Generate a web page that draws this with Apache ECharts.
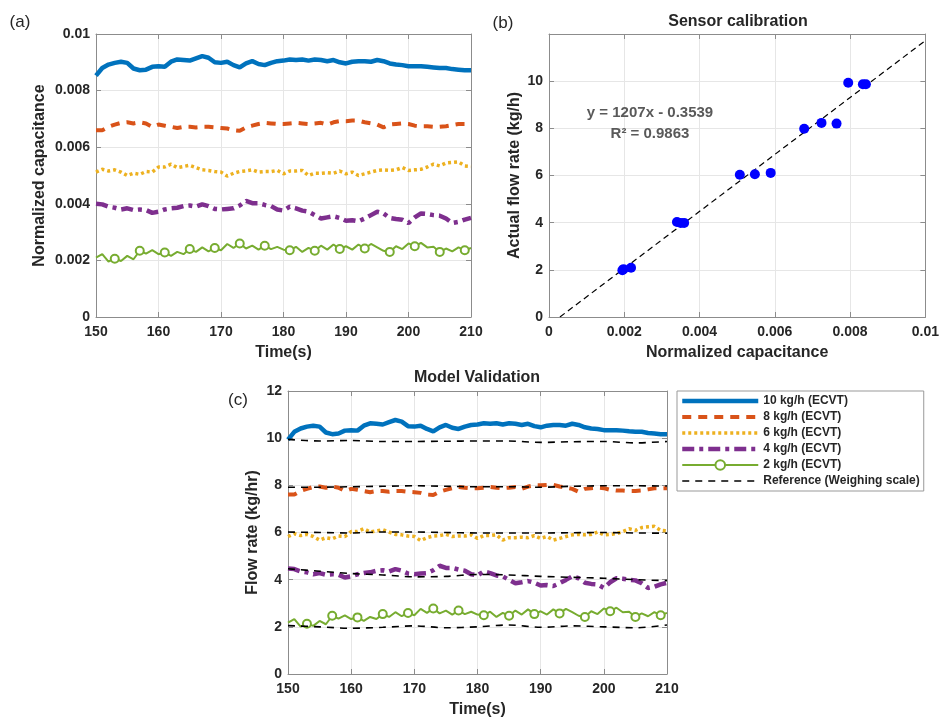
<!DOCTYPE html>
<html>
<head>
<meta charset="utf-8">
<script src="https://cdn.jsdelivr.net/npm/echarts@6/dist/echarts.min.js"></script>
<style>
  html, body { margin: 0; padding: 0; background: #fff; }
  #chart { width: 942px; height: 719px; }
</style>
</head>
<body>
<div id="chart"></div>
<script>
// sample times, 1 s apart
const time = Array.from({ length: 61 }, (_, i) => 150 + i);

// (a) normalized capacitance
const cap10 = [
  0.00853,0.0088,0.00892,0.00898,0.00902,0.00898,0.00878,0.00872,0.00874,0.00884,
  0.00886,0.00884,0.00902,0.0091,0.00908,0.00906,0.00914,0.00922,0.00916,0.009,
  0.00898,0.00902,0.0089,0.00882,0.00896,0.00904,0.00894,0.0089,0.00898,0.00904,
  0.00906,0.0091,0.00908,0.0091,0.00906,0.0091,0.00908,0.00904,0.00908,0.009,
  0.00896,0.00902,0.00904,0.00904,0.00902,0.00908,0.00904,0.00896,0.00892,0.0089,
  0.00886,0.00886,0.00886,0.00884,0.00882,0.0088,0.0088,0.00876,0.00874,0.00872,0.00872];
const cap8 = [
  0.0066,0.0066,0.00672,0.0068,0.00686,0.00688,0.00684,0.00688,0.00684,0.00672,
  0.0068,0.00676,0.00672,0.00668,0.00672,0.00672,0.0067,0.00672,0.00672,0.0067,
  0.00668,0.00666,0.0066,0.00658,0.0067,0.00676,0.00682,0.00686,0.00684,0.00682,
  0.00682,0.00684,0.00686,0.00684,0.00682,0.00684,0.00686,0.0068,0.00688,0.00692,
  0.00692,0.00694,0.00694,0.00688,0.00684,0.0068,0.0067,0.0068,0.00682,0.00684,
  0.00682,0.00676,0.00674,0.00674,0.00672,0.00672,0.00674,0.00678,0.00682,0.00682,0.00682];
const cap6 = [
  0.00512,0.00522,0.00516,0.0052,0.00512,0.005,0.00508,0.00504,0.00514,0.00512,
  0.0053,0.0053,0.0054,0.00528,0.00532,0.00536,0.00528,0.0052,0.00518,0.00514,
  0.00512,0.00498,0.00508,0.00514,0.00516,0.0052,0.00512,0.00514,0.00514,0.00518,
  0.00506,0.00516,0.00516,0.00518,0.005,0.00508,0.00508,0.0051,0.00508,0.00516,
  0.00506,0.00512,0.005,0.00506,0.00512,0.00518,0.0052,0.00518,0.0052,0.00528,
  0.00518,0.0052,0.00522,0.0053,0.0054,0.00534,0.00544,0.00546,0.00548,0.00534,0.00532];
const cap4 = [
  0.004,0.00398,0.0039,0.00386,0.0038,0.00384,0.00378,0.0038,0.00378,0.00368,
  0.00372,0.0038,0.00384,0.00386,0.00392,0.00394,0.0039,0.00398,0.00392,0.00382,
  0.0038,0.00382,0.00384,0.00394,0.0041,0.00402,0.00402,0.00396,0.00392,0.0038,
  0.00376,0.0039,0.00384,0.00376,0.00372,0.0036,0.00348,0.00352,0.00356,0.0035,
  0.0034,0.00342,0.00338,0.00348,0.0036,0.00372,0.00366,0.0035,0.00346,0.00344,
  0.00332,0.00352,0.00366,0.00364,0.0036,0.00358,0.00348,0.00332,0.00336,0.00344,0.0035];
const cap2 = [
  0.0021,0.00222,0.00196,0.00206,0.00198,0.00216,0.00204,0.00234,0.00224,0.00236,
  0.00222,0.00228,0.00216,0.0023,0.00222,0.0024,0.0023,0.00246,0.00232,0.00244,
  0.00236,0.00258,0.00244,0.0026,0.00242,0.00252,0.00238,0.00252,0.0024,0.00248,
  0.00238,0.00236,0.00248,0.0023,0.00244,0.00234,0.00252,0.00238,0.00256,0.0024,
  0.0025,0.00238,0.00256,0.00242,0.00258,0.00246,0.00234,0.0023,0.0025,0.0024,
  0.0026,0.0025,0.00262,0.00246,0.00248,0.0023,0.00242,0.00232,0.00246,0.00236,0.00244];

// (b) calibration points and fitted line
const calCap = [0.00195,0.00198,0.00218,0.0034,0.0035,0.00359,0.00507,0.00547,0.00589,0.00678,0.00724,0.00764,0.00795,0.00834,0.00842];
const calFlow = [1.98,2.03,2.09,4.03,3.99,3.99,6.03,6.05,6.11,7.98,8.23,8.2,9.93,9.87,9.87];
const fitX = [0.00029, 0.01];
const fitY = [0, 11.72];

// (c) ECVT flow rate
const flow10 = [
  9.94,10.27,10.41,10.49,10.53,10.49,10.24,10.17,10.20,10.32,
  10.34,10.32,10.53,10.63,10.61,10.58,10.68,10.77,10.70,10.51,
  10.49,10.53,10.39,10.29,10.46,10.56,10.44,10.39,10.49,10.56,
  10.58,10.63,10.61,10.63,10.58,10.63,10.61,10.56,10.61,10.51,
  10.46,10.53,10.56,10.56,10.53,10.61,10.56,10.46,10.41,10.39,
  10.34,10.34,10.34,10.32,10.29,10.27,10.27,10.22,10.20,10.17,10.17];
const flow8 = [
  7.61,7.61,7.76,7.85,7.93,7.95,7.90,7.95,7.90,7.76,
  7.85,7.81,7.76,7.71,7.76,7.76,7.73,7.76,7.76,7.73,
  7.71,7.68,7.61,7.59,7.73,7.81,7.88,7.93,7.90,7.88,
  7.88,7.90,7.93,7.90,7.88,7.90,7.93,7.85,7.95,8.00,
  8.00,8.02,8.02,7.95,7.90,7.85,7.73,7.85,7.88,7.90,
  7.88,7.81,7.78,7.78,7.76,7.76,7.78,7.83,7.88,7.88,7.88];
const flow6 = [
  5.83,5.95,5.87,5.92,5.83,5.68,5.78,5.73,5.85,5.83,
  6.04,6.04,6.16,6.02,6.07,6.12,6.02,5.92,5.90,5.85,
  5.83,5.66,5.78,5.85,5.87,5.92,5.83,5.85,5.85,5.90,
  5.75,5.87,5.87,5.90,5.68,5.78,5.78,5.80,5.78,5.87,
  5.75,5.83,5.68,5.75,5.83,5.90,5.92,5.90,5.92,6.02,
  5.90,5.92,5.95,6.04,6.16,6.09,6.21,6.24,6.26,6.09,6.07];
const flow4 = [
  4.47,4.45,4.35,4.31,4.23,4.28,4.21,4.23,4.21,4.09,
  4.14,4.23,4.28,4.31,4.38,4.40,4.35,4.45,4.38,4.26,
  4.23,4.26,4.28,4.40,4.59,4.50,4.50,4.43,4.38,4.23,
  4.18,4.35,4.28,4.18,4.14,3.99,3.85,3.89,3.94,3.87,
  3.75,3.77,3.73,3.85,3.99,4.14,4.06,3.87,3.82,3.80,
  3.65,3.89,4.06,4.04,3.99,3.97,3.85,3.65,3.70,3.80,3.87];
const flow2 = [
  2.18,2.33,2.01,2.13,2.04,2.25,2.11,2.47,2.35,2.49,
  2.33,2.40,2.25,2.42,2.33,2.54,2.42,2.62,2.45,2.59,
  2.49,2.76,2.59,2.78,2.57,2.69,2.52,2.69,2.54,2.64,
  2.52,2.49,2.64,2.42,2.59,2.47,2.69,2.52,2.74,2.54,
  2.66,2.52,2.74,2.57,2.76,2.62,2.47,2.42,2.66,2.54,
  2.78,2.66,2.81,2.62,2.64,2.42,2.57,2.45,2.62,2.49,2.59];

// (c) weighing scale reference
const refTime = [150,155,160,165,170,175,180,185,190,195,200,205,210];
const ref10 = [9.95,9.88,9.9,9.86,9.86,9.87,9.88,9.88,9.82,9.85,9.86,9.8,9.86];
const ref8 = [7.92,7.92,7.94,7.96,7.98,7.96,7.94,7.94,7.92,7.96,7.98,7.98,7.97];
const ref6 = [6.02,6.0,5.98,6.02,6.02,6.0,5.98,5.98,5.98,5.99,6.0,5.98,5.97];
const ref4 = [4.46,4.36,4.26,4.2,4.12,4.14,4.22,4.2,4.14,4.1,4.06,4.0,3.96];
const ref2 = [2.05,2.0,1.94,1.98,2.04,1.96,2.0,2.08,1.98,2.04,2.0,1.96,2.08];

const names = ['10 kg/h (ECVT)', '8 kg/h (ECVT)', '6 kg/h (ECVT)', '4 kg/h (ECVT)', '2 kg/h (ECVT)'];
const refName = 'Reference (Weighing scale)';

const FONT = 'Liberation Sans';
const BOX = '#8c8c8c';
const GRIDLINE = '#e6e6e6';
const INK = '#262626';

function pair(xs, ys) { return xs.map((x, i) => [x, ys[i]]); }

function mainX(grid, min, max, interval, name, gap) {
  return {
    type: 'value', gridIndex: grid, min, max, interval, name,
    nameLocation: 'middle', nameGap: gap,
    nameTextStyle: { fontFamily: FONT, fontWeight: 'bold', fontSize: 16, color: INK },
    axisLine: { show: true, lineStyle: { color: BOX } },
    axisTick: { show: true, inside: true, length: 5, lineStyle: { color: BOX } },
    axisLabel: { fontFamily: FONT, fontWeight: 'bold', fontSize: 14, color: INK, margin: 8 },
    splitLine: { show: true, lineStyle: { color: GRIDLINE } }
  };
}
function mainY(grid, min, max, interval, name, gap, fmt) {
  return {
    type: 'value', gridIndex: grid, min, max, interval, name,
    nameLocation: 'middle', nameGap: gap,
    nameTextStyle: { fontFamily: FONT, fontWeight: 'bold', fontSize: 16, color: INK },
    axisLine: { show: true, lineStyle: { color: BOX } },
    axisTick: { show: true, inside: true, length: 5, lineStyle: { color: BOX } },
    axisLabel: { fontFamily: FONT, fontWeight: 'bold', fontSize: 14, color: INK, margin: 6, formatter: fmt },
    splitLine: { show: true, lineStyle: { color: GRIDLINE } }
  };
}
function mirror(grid, min, max, interval, pos) {
  return {
    type: 'value', gridIndex: grid, min, max, interval, position: pos,
    axisLine: { show: true, onZero: false, lineStyle: { color: BOX } },
    axisTick: { show: true, inside: true, length: 5, lineStyle: { color: BOX } },
    axisLabel: { show: false },
    splitLine: { show: false }
  };
}

const styles = [
  { color: '#0072BD', width: 4.5, type: 'solid' },
  { color: '#D95319', width: 4, type: [9, 7] },
  { color: '#EDB120', width: 3.5, type: [3, 3] },
  { color: '#7E2F8E', width: 4.5, type: [12, 5, 4, 5] },
  { color: '#77AC30', width: 2, type: 'solid' }
];

function ecvtSeries(name, values, k, axis) {
  const s = styles[k];
  const green = k === 4;
  return {
    name, type: 'line', xAxisIndex: axis, yAxisIndex: axis,
    data: time.map((t, i) => green
      ? { value: [t, values[i]], symbol: (t - 153) % 4 === 0 ? 'emptyCircle' : 'none' }
      : [t, values[i]]),
    symbol: green ? 'emptyCircle' : 'none',
    symbolSize: 8,
    showSymbol: green,
    itemStyle: { color: s.color, borderWidth: 2 },
    lineStyle: { color: s.color, width: s.width, type: s.type },
    z: 3
  };
}
function refSeries(values) {
  return {
    name: refName, type: 'line', xAxisIndex: 2, yAxisIndex: 2,
    data: pair(refTime, values), symbol: 'none', smooth: 0.3,
    itemStyle: { color: '#000' },
    lineStyle: { color: '#000', width: 1.6, type: [7, 6] },
    z: 4
  };
}

const capA = [cap10, cap8, cap6, cap4, cap2];
const flowC = [flow10, flow8, flow6, flow4, flow2];

const series = [];
capA.forEach((v, k) => series.push(ecvtSeries('(a) ' + names[k], v, k, 0)));
series.push({
  name: 'fit', type: 'line', xAxisIndex: 1, yAxisIndex: 1,
  data: pair(fitX, fitY), symbol: 'none',
  lineStyle: { color: '#000', width: 1.2, type: [6, 4] }, z: 2
});
series.push({
  name: 'calibration', type: 'scatter', xAxisIndex: 1, yAxisIndex: 1,
  data: pair(calCap, calFlow), symbolSize: 10,
  itemStyle: { color: '#0000FF', opacity: 1 }, z: 3
});
flowC.forEach((v, k) => series.push(ecvtSeries(names[k], v, k, 2)));
[ref10, ref8, ref6, ref4, ref2].forEach(v => series.push(refSeries(v)));

// legend entries: only the 2 kg/h line keeps its marker
const hidden = { opacity: 0 };
const legendData = names.map((n, k) => ({
  name: n,
  itemStyle: k === 4 ? { borderWidth: 2 } : hidden,
  lineStyle: { width: styles[k].width }
})).concat([{ name: refName, itemStyle: hidden, lineStyle: { width: 1.6 } }]);

function label(text, x, y, size, weight, color) {
  return {
    type: 'text', x, y, z: 100,
    style: { text, fontFamily: FONT, fontSize: size, fontWeight: weight, fill: color || INK,
             align: 'center', verticalAlign: 'middle' }
  };
}

const chart = echarts.init(document.getElementById('chart'));
chart.setOption({
  animation: false,
  backgroundColor: '#fff',
  grid: [
    { left: 96, top: 34, width: 375, height: 283 },
    { left: 549, top: 34, width: 379, height: 283 },
    { left: 288, top: 391, width: 379, height: 283 }
  ],
  xAxis: [
    mainX(0, 150, 210, 10, 'Time(s)', 28),
    mainX(1, 0, 0.01, 0.002, 'Normalized capacitance', 28),
    mainX(2, 150, 210, 10, 'Time(s)', 28),
    mirror(0, 150, 210, 10, 'top'),
    mirror(1, 0, 0.01, 0.002, 'top'),
    mirror(2, 150, 210, 10, 'top')
  ],
  yAxis: [
    mainY(0, 0, 0.01, 0.002, 'Normalized capacitance', 48),
    mainY(1, 0, 12, 2, 'Actual flow rate (kg/h)', 26, v => (v === 12 ? '' : String(v))),
    mainY(2, 0, 12, 2, 'Flow rate (kg/hr)', 27),
    mirror(0, 0, 0.01, 0.002, 'right'),
    mirror(1, 0, 12, 2, 'right'),
    mirror(2, 0, 12, 2, 'right')
  ],
  legend: {
    orient: 'vertical', left: 677, top: 391,
    itemWidth: 76, itemHeight: 12, itemGap: 2,
    padding: [3, 4, 3, 3],
    borderColor: '#999', borderWidth: 1,
    selectedMode: false,
    textStyle: { fontFamily: FONT, fontWeight: 'bold', fontSize: 12, color: INK, lineHeight: 14 },
    data: legendData
  },
  graphic: [
    label('(a)', 20, 22, 17, 'normal'),
    label('(b)', 503, 23, 17, 'normal'),
    label('(c)', 238, 400, 17, 'normal'),
    label('Sensor calibration', 738, 22, 16, 'bold'),
    label('Model Validation', 477, 378, 16, 'bold'),
    label('y = 1207x - 0.3539', 650, 113, 15, 'bold', '#595959'),
    label('R\u00b2 = 0.9863', 650, 134, 15, 'bold', '#595959')
  ],
  series
});
</script>
</body>
</html>
